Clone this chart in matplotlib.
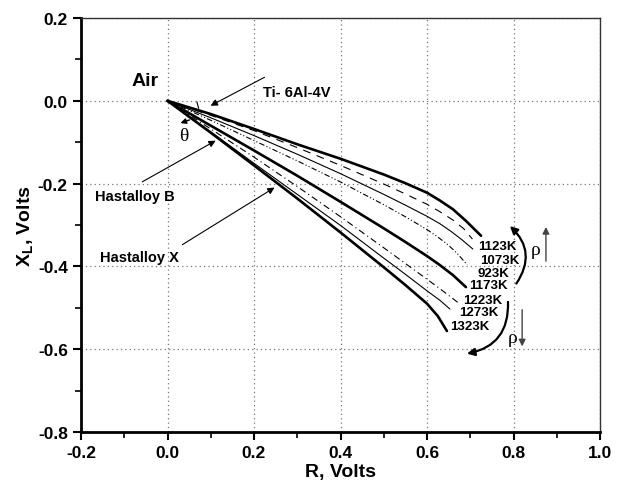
import matplotlib
matplotlib.use("Agg")
import matplotlib.pyplot as plt
from matplotlib.patches import FancyArrowPatch
import numpy as np

plt.rcParams['font.family'] = ['Liberation Sans', 'DejaVu Sans']
plt.rcParams['mathtext.fontset'] = 'custom'
plt.rcParams['mathtext.rm'] = 'Liberation Sans:bold'
plt.rcParams['mathtext.bf'] = 'Liberation Sans:bold'
plt.rcParams['mathtext.it'] = 'Liberation Sans:bold'

# ---- data ----
r_1123 = [0, 0.10, 0.20, 0.30, 0.40, 0.50, 0.55, 0.60, 0.63, 0.66, 0.69, 0.725]
x_1123 = [0, -0.032, -0.068, -0.105, -0.140, -0.178, -0.199, -0.222, -0.241, -0.262, -0.290, -0.326]

r_dash = [0, 0.10, 0.20, 0.30, 0.40, 0.50, 0.55, 0.60, 0.63, 0.66, 0.685, 0.705]
x_dash = [0, -0.035, -0.072, -0.113, -0.156, -0.201, -0.225, -0.250, -0.268, -0.288, -0.309, -0.334]

r_1073 = [0, 0.10, 0.20, 0.30, 0.40, 0.50, 0.55, 0.60, 0.63, 0.655, 0.68, 0.706]
x_1073 = [0, -0.041, -0.084, -0.129, -0.176, -0.226, -0.252, -0.279, -0.297, -0.315, -0.335, -0.358]

r_923 = [0, 0.10, 0.20, 0.30, 0.40, 0.50, 0.55, 0.60, 0.625, 0.65, 0.67, 0.693]
x_923 = [0, -0.047, -0.096, -0.145, -0.196, -0.251, -0.280, -0.311, -0.329, -0.349, -0.369, -0.396]

r_1173 = [0, 0.10, 0.20, 0.30, 0.40, 0.50, 0.55, 0.60, 0.63, 0.66, 0.69]
x_1173 = [0, -0.060, -0.120, -0.181, -0.244, -0.308, -0.341, -0.375, -0.397, -0.421, -0.450]

r_1223 = [0, 0.10, 0.20, 0.30, 0.40, 0.50, 0.55, 0.60, 0.63, 0.655, 0.675]
x_1223 = [0, -0.068, -0.136, -0.207, -0.280, -0.355, -0.393, -0.431, -0.454, -0.474, -0.490]

r_1273 = [0, 0.10, 0.20, 0.30, 0.40, 0.50, 0.55, 0.60, 0.63, 0.653]
x_1273 = [0, -0.075, -0.151, -0.226, -0.301, -0.380, -0.419, -0.459, -0.482, -0.503]

r_1323 = [0, 0.10, 0.20, 0.30, 0.40, 0.50, 0.55, 0.60, 0.625, 0.646]
x_1323 = [0, -0.077, -0.156, -0.236, -0.318, -0.402, -0.445, -0.490, -0.520, -0.556]

temp_labels = ['1123K', '1073K', '923K', '1173K', '1223K', '1273K', '1323K']

x_ticks = [-0.2, 0.0, 0.2, 0.4, 0.6, 0.8, 1.0]
y_ticks = [-0.8, -0.6, -0.4, -0.2, 0.0, 0.2]

fig = plt.figure(figsize=(6.24, 4.85), dpi=100)
ax = fig.add_axes([81/624, 1-433/485, 519/624, 414/485])

thick = 1.9
thin = 0.8
jk = dict(solid_joinstyle='round', solid_capstyle='round')
ax.plot(r_1123, x_1123, color='black', lw=thick, **jk)
ax.plot(r_dash, x_dash, color='black', lw=thin, ls=(0, (7, 6)))
ax.plot(r_1073, x_1073, color='black', lw=thin, **jk)
ax.plot(r_923, x_923, color='black', lw=thin, ls=(0, (5, 2, 1, 2, 1, 2)))
ax.plot(r_1173, x_1173, color='black', lw=thick, **jk)
ax.plot(r_1223, x_1223, color='black', lw=thin, ls=(0, (6, 3, 1, 3)))
ax.plot(r_1273, x_1273, color='black', lw=thin, **jk)
ax.plot(r_1323, x_1323, color='black', lw=thick, **jk)

# temperature labels
label_pos = [(0.718, -0.351), (0.723, -0.385), (0.716, -0.416), (0.697, -0.445),
             (0.683, -0.481), (0.674, -0.510), (0.653, -0.544)]
for t, (lx, ly) in zip(temp_labels, label_pos):
    ax.text(lx, ly, t, fontsize=9.5, fontweight='bold', ha='left', va='center')

# text annotations
ax.text(-0.052, 0.050, 'Air', fontsize=14, fontweight='bold', ha='center', va='center')
ax.text(0.221, 0.021, 'Ti- 6Al-4V', fontsize=10.5, fontweight='bold', ha='left', va='center')
ax.text(-0.168, -0.230, 'Hastalloy B', fontsize=10.5, fontweight='bold', ha='left', va='center')
ax.text(-0.156, -0.377, 'Hastalloy X', fontsize=10.5, fontweight='bold', ha='left', va='center')
ax.text(0.038, -0.085, 'θ', fontsize=14, family='Liberation Serif', ha='center', va='center')
ax.text(0.850, -0.358, 'ρ', fontsize=14, family='Liberation Serif', ha='center', va='center')
ax.text(0.797, -0.571, 'ρ', fontsize=14, family='Liberation Serif', ha='center', va='center')

arrow_kw = dict(arrowstyle='-|>', color='black', lw=0.8, mutation_scale=10)
ax.annotate('', xy=(0.094, -0.015), xytext=(0.230, 0.060), arrowprops=arrow_kw)
ax.annotate('', xy=(0.117, -0.093), xytext=(-0.064, -0.199), arrowprops=arrow_kw)
ax.annotate('', xy=(0.253, -0.206), xytext=(0.029, -0.351), arrowprops=arrow_kw)
ax.annotate('', xy=(0.024, -0.056), xytext=(0.057, -0.044),
            arrowprops=dict(arrowstyle='-|>', color='black', lw=1.0, mutation_scale=8))
ax.plot([0.068, 0.072], [-0.003, -0.018], color='black', lw=0.8)

# rho straight arrows
ax.annotate('', xy=(0.875, -0.298), xytext=(0.875, -0.394),
            arrowprops=dict(arrowstyle='-|>', color='#444444', lw=1.0, mutation_scale=10))
ax.annotate('', xy=(0.820, -0.600), xytext=(0.820, -0.498),
            arrowprops=dict(arrowstyle='-|>', color='#444444', lw=1.0, mutation_scale=10))

# curved arrows
ax.add_patch(FancyArrowPatch((0.803, -0.447), (0.787, -0.298),
                             connectionstyle='arc3,rad=0.45', arrowstyle='-|>',
                             mutation_scale=11, lw=1.6, color='black'))
ax.add_patch(FancyArrowPatch((0.787, -0.479), (0.686, -0.612),
                             connectionstyle='arc3,rad=-0.45', arrowstyle='-|>',
                             mutation_scale=11, lw=1.6, color='black'))

ax.set_xlim(-0.2, 1.0)
ax.set_ylim(-0.8, 0.2)
ax.set_xticks(x_ticks)
ax.set_yticks(y_ticks)
ax.set_xticks(np.arange(-0.1, 1.0, 0.2), minor=True)
ax.set_yticks(np.arange(-0.7, 0.2, 0.2), minor=True)
ax.set_xticklabels([f'{v:.1f}' for v in x_ticks])
ax.set_yticklabels([f'{v:.1f}' for v in y_ticks])
for lab in ax.get_xticklabels() + ax.get_yticklabels():
    lab.set_fontweight('bold')
    lab.set_fontsize(12.5)
ax.tick_params(which='major', direction='out', length=6, width=1.5, top=False, right=False)
ax.tick_params(which='minor', direction='out', length=4, width=1.2, top=False, right=False)

ax.grid(True, which='major', color='#777777', ls=(0, (1, 2.5)), lw=0.9)
ax.set_axisbelow(True)

for s in ['left', 'bottom']:
    ax.spines[s].set_linewidth(2.0)
for s in ['top', 'right']:
    ax.spines[s].set_linewidth(1.0)
    ax.spines[s].set_color('#333333')

ax.set_xlabel('R, Volts', fontsize=14, fontweight='bold', labelpad=2)
ax.set_ylabel(r'X$_{L}$, Volts', fontsize=14, fontweight='bold', labelpad=2)

fig.savefig('out.png', dpi=100)
